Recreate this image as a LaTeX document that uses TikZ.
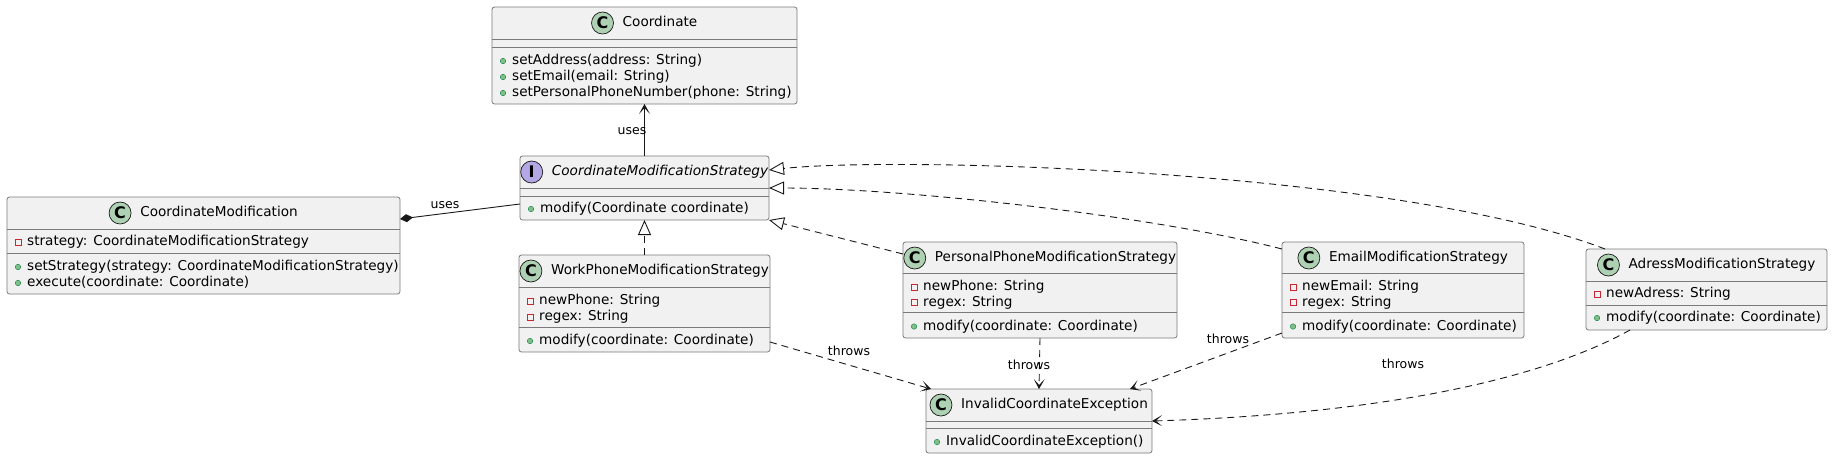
\documentclass[tikz,border=0pt]{standalone}
\usepackage{fontspec}
\setmainfont{DejaVu Sans}
\usetikzlibrary{arrows.meta}
\definecolor{boxfill}{HTML}{F1F1F1}
\definecolor{linec}{HTML}{181818}
\definecolor{borderc}{HTML}{7A7A7A}
\definecolor{cgreen}{HTML}{ADD1B2}
\definecolor{ipurple}{HTML}{B4A7E5}
\definecolor{pubfill}{HTML}{84BE84}
\definecolor{publine}{HTML}{038048}
\definecolor{privline}{HTML}{C82930}
\begin{document}
\begin{tikzpicture}[x=1pt,y=-1pt,font=\fontsize{13.6}{16}\selectfont,
  box/.style={draw=borderc, fill=boxfill, line width=0.8pt, rounded corners=2.5pt, inner sep=0pt, outer sep=0pt, anchor=north west},
  hdr/.style={inner sep=0pt, anchor=center, text height=10pt, text depth=3pt},
  cicon/.style={circle, draw=linec, line width=0.7pt, fill=cgreen, minimum size=22pt, inner sep=0pt, font=\fontsize{16}{16}\selectfont\bfseries},
  iicon/.style={cicon, fill=ipurple},
  mem/.style={anchor=west, inner sep=0pt, text height=10pt, text depth=3pt},
  pub/.style={circle, draw=publine, fill=pubfill, line width=0.4pt, minimum size=5.5pt, inner sep=0pt},
  priv/.style={rectangle, draw=privline, line width=0.7pt, minimum size=6pt, inner sep=0pt},
  sepl/.style={draw=borderc, line width=0.8pt},
  conn/.style={draw=linec, line width=0.9pt},
  dep/.style={conn, -{Stealth[length=10pt,width=11pt,inset=6pt]}},
  throws/.style={dep, dash pattern=on 7pt off 5pt},
  real/.style={conn, dash pattern=on 7pt off 5pt, -{Triangle[open, length=15pt, width=13pt, fill=white]}},
  lbl/.style={inner sep=1pt, font=\fontsize{12.5}{14}\selectfont}]
\useasboundingbox (0,0) rectangle (1833,459);

% ---------- Coordinate
\node[box, minimum width=305pt, minimum height=97pt] (coord) at (492,7) {};
\node[hdr] (coordT) at (660,23) {Coordinate};
\node[cicon] (coordI) at ([xshift=-20pt]coordT.west) {C};
\draw[sepl] (492,39) -- (797,39);
\draw[sepl] (492,47) -- (797,47);
\node[pub] (coordP1) at (503,61) {};
\node[mem] (coordM1) at (512,61) {setAddress(address: String)};
\node[pub] (coordP2) at (503,77) {};
\node[mem] (coordM2) at (512,77) {setEmail(email: String)};
\node[pub] (coordP3) at (503,93) {};
\node[mem] (coordM3) at (512,93) {setPersonalPhoneNumber(phone: String)};

% ---------- CoordinateModificationStrategy
\node[box, minimum width=249pt, minimum height=64pt] (cms) at (520,156) {};
\node[hdr] (cmsT) at (660,172) {\itshape CoordinateModificationStrategy};
\node[iicon] (cmsI) at ([xshift=-20pt]cmsT.west) {I};
\draw[sepl] (520,188) -- (769,188);
\draw[sepl] (520,196) -- (769,196);
\node[pub] (cmsP1) at (531,209) {};
\node[mem] (cmsM1) at (540,209) {modify(Coordinate coordinate)};

% ---------- CoordinateModification
\node[box, minimum width=393pt, minimum height=97pt] (cm) at (7,197) {};
\node[hdr] (cmT) at (219,213) {CoordinateModification};
\node[cicon] (cmI) at ([xshift=-20pt]cmT.west) {C};
\draw[sepl] (7,229) -- (400,229);
\draw[sepl] (7,253) -- (400,253);
\node[priv] (cmQ1) at (18,242) {};
\node[mem] (cmA1) at (27,242) {strategy: CoordinateModificationStrategy};
\node[pub] (cmP1) at (18,267) {};
\node[mem] (cmM1) at (27,267) {setStrategy(strategy: CoordinateModificationStrategy)};
\node[pub] (cmP2) at (18,283) {};
\node[mem] (cmM2) at (27,283) {execute(coordinate: Coordinate)};

% ---------- WorkPhoneModificationStrategy
\node[box, minimum width=251pt, minimum height=97pt] (work) at (519,255) {};
\node[hdr] (workT) at (660,271) {WorkPhoneModificationStrategy};
\node[cicon] (workI) at ([xshift=-20pt]workT.west) {C};
\draw[sepl] (519,287) -- (770,287);
\draw[sepl] (519,327) -- (770,327);
\node[priv] (workQ1) at (530,301) {};
\node[mem] (workA1) at (539,301) {newPhone: String};
\node[priv] (workQ2) at (530,317) {};
\node[mem] (workA2) at (539,317) {regex: String};
\node[pub] (workP1) at (530,341) {};
\node[mem] (workM1) at (539,341) {modify(coordinate: Coordinate)};

% ---------- PersonalPhoneModificationStrategy
\node[box, minimum width=274pt, minimum height=96pt] (personal) at (903,242) {};
\node[hdr] (personalT) at (1055.5,258) {PersonalPhoneModificationStrategy};
\node[cicon] (personalI) at ([xshift=-20pt]personalT.west) {C};
\draw[sepl] (903,273.5) -- (1177,273.5);
\draw[sepl] (903,312.5) -- (1177,312.5);
\node[priv] (personalQ1) at (914,287) {};
\node[mem] (personalA1) at (923,287) {newPhone: String};
\node[priv] (personalQ2) at (914,302.5) {};
\node[mem] (personalA2) at (923,302.5) {regex: String};
\node[pub] (personalP1) at (914,326.5) {};
\node[mem] (personalM1) at (923,326.5) {modify(coordinate: Coordinate)};

% ---------- EmailModificationStrategy
\node[box, minimum width=242pt, minimum height=96pt] (email) at (1282,242) {};
\node[hdr] (emailT) at (1418.5,258) {EmailModificationStrategy};
\node[cicon] (emailI) at ([xshift=-20pt]emailT.west) {C};
\draw[sepl] (1282,273.5) -- (1524,273.5);
\draw[sepl] (1282,312.5) -- (1524,312.5);
\node[priv] (emailQ1) at (1293,287) {};
\node[mem] (emailA1) at (1302,287) {newEmail: String};
\node[priv] (emailQ2) at (1293,302.5) {};
\node[mem] (emailA2) at (1302,302.5) {regex: String};
\node[pub] (emailP1) at (1293,326.5) {};
\node[mem] (emailM1) at (1302,326.5) {modify(coordinate: Coordinate)};

% ---------- AdressModificationStrategy
\node[box, minimum width=241pt, minimum height=81pt] (adress) at (1586,249) {};
\node[hdr] (adressT) at (1722,265) {AdressModificationStrategy};
\node[cicon] (adressI) at ([xshift=-20pt]adressT.west) {C};
\draw[sepl] (1586,281) -- (1827,281);
\draw[sepl] (1586,305) -- (1827,305);
\node[priv] (adressQ1) at (1597,294) {};
\node[mem] (adressA1) at (1606,294) {newAdress: String};
\node[pub] (adressP1) at (1597,318) {};
\node[mem] (adressM1) at (1606,318) {modify(coordinate: Coordinate)};

% ---------- InvalidCoordinateException
\node[box, minimum width=226pt, minimum height=64pt] (inv) at (926,389) {};
\node[hdr] (invT) at (1054.5,405) {InvalidCoordinateException};
\node[cicon] (invI) at ([xshift=-20pt]invT.west) {C};
\draw[sepl] (926,421.5) -- (1152,421.5);
\draw[sepl] (926,428.5) -- (1152,428.5);
\node[pub] (invP1) at (937,442) {};
\node[mem] (invM1) at (946,442) {InvalidCoordinateException()};

% ---------- connectors
\draw[dep] (cms.north) -- (coord.south);
\node[lbl] (usesA) at (632,131) {uses};

\draw[conn, {Diamond[length=13pt,width=8pt]}-] ([yshift=26.5pt]cm.east) -- ([yshift=-16pt]cms.west);
\node[lbl] (usesB) at (445,205) {uses};

\draw[real] (work.north) -- (cms.south);
\draw[real] ([yshift=-12pt]personal.north west) -- (cms.south east);
\draw[real] ([yshift=-7pt]email.north west) .. controls (1150,215) and (900,188) .. (cms.east);
\draw[real] ([xshift=19pt]adress.north west) .. controls (1400,170) and (900,156) .. ([yshift=18pt]cms.east);

\draw[throws] ([yshift=10pt]work.south east) -- ([xshift=5pt]inv.north west);
\node[lbl] (thrA) at (849,351) {throws};
\draw[throws] (personal.south) -- (inv.north);
\node[lbl] (thrB) at (1029,365) {throws};
\draw[throws] ([yshift=5pt]email.south west) -- ([xshift=-22pt]inv.north east);
\node[lbl] (thrC) at (1228,339) {throws};
\draw[throws] ([xshift=44pt]adress.south west) .. controls (1540,380) and (1380,414) .. (inv.east);
\node[lbl] (thrD) at (1403,364) {throws};
\end{tikzpicture}
\end{document}
